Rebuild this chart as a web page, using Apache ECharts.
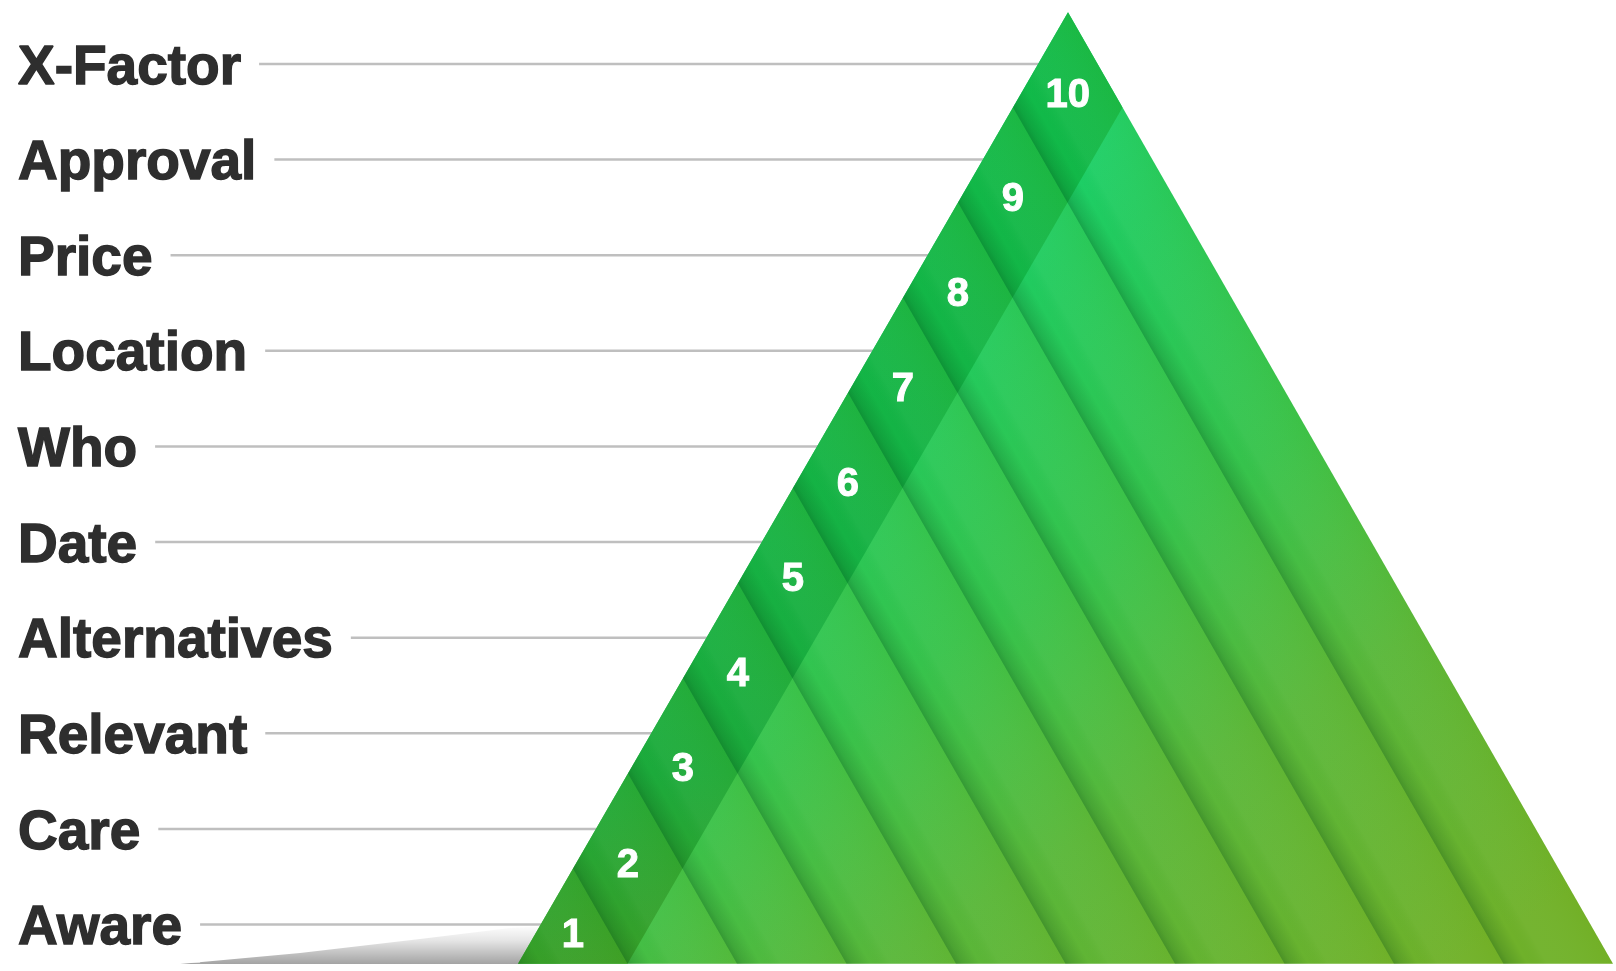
<!DOCTYPE html>
<html>
<head>
<meta charset="utf-8">
<style>
  html, body { margin: 0; padding: 0; background: #fff; }
  #main { width: 1616px; height: 971px; }
</style>
<script src="https://cdn.jsdelivr.net/npm/echarts@6/dist/echarts.min.js"></script>
</head>
<body>
<div id="main"></div>
<script>
// steps, bottom to top
var categories = ['Aware', 'Care', 'Relevant', 'Alternatives', 'Date', 'Who', 'Location', 'Price', 'Approval', 'X-Factor'];
var levels = [1, 2, 3, 4, 5, 6, 7, 8, 9, 10];
var levelLabels = ['1', '2', '3', '4', '5', '6', '7', '8', '9', '10'];

// triangle corners in axis units (x: px from grid left, y: level)
var TRI = { apex: [1050, 10.54], left: [500, 0.59], right: [1595, 0.59] };

function triPx(api) {
    return { A: api.coord(TRI.apex), L: api.coord(TRI.left), R: api.coord(TRI.right) };
}
// point inside triangle: u along apex->left, v along apex->right
function P(t, u, v) {
    return [
        t.A[0] + u * (t.L[0] - t.A[0]) + v * (t.R[0] - t.A[0]),
        t.A[1] + u * (t.L[1] - t.A[1]) + v * (t.R[1] - t.A[1])
    ];
}
function lin(x, y, x2, y2, stops) {
    return { type: 'linear', x: x, y: y, x2: x2, y2: y2, global: true,
        colorStops: stops.map(function (s) { return { offset: s[0], color: s[1] }; }) };
}

var myChart = echarts.init(document.getElementById('main'));

var option = {
    animation: false,
    backgroundColor: '#fff',
    grid: [
        { left: 18, right: 0, top: 63.9, bottom: 46.5 },
        // label grid, nudged down so the caps sit centred on the guide lines
        { left: 18, right: 0, top: 68.4, bottom: 42 }
    ],
    xAxis: [
        { type: 'value', min: 0, max: 1598, show: false },
        { type: 'value', gridIndex: 1, min: 0, max: 1, show: false }
    ],
    yAxis: [
        {
            type: 'category',
            gridIndex: 1,
            data: categories,
            boundaryGap: false,
            z: 10,
            axisLine: { show: false },
            axisTick: { show: false },
            splitLine: { show: false },
            axisLabel: {
                inside: true,
                margin: 0,
                interval: 0,
                color: '#2e2e2e',
                fontFamily: 'Liberation Sans',
                fontWeight: 'bold',
                fontSize: 55,
                textBorderColor: '#2e2e2e',
                textBorderWidth: 1.4,
                backgroundColor: '#fff',
                padding: [6, 18, 6, 0]
            }
        },
        { type: 'value', min: 1, max: 10, show: false }
    ],
    graphic: [
        {
            // soft ground shadow left of the triangle
            type: 'polygon',
            z: 0,
            shape: { points: [[180, 964], [300, 953], [420, 939], [510, 928], [560, 925], [560, 964]] },
            style: { fill: lin(0, 925, 0, 964, [[0, 'rgba(0,0,0,0)'], [0.4, 'rgba(0,0,0,0.1)'], [1, 'rgba(0,0,0,0.36)']]) }
        }
    ],
    series: [
        {
            // guide lines from labels to the triangle
            type: 'custom',
            yAxisIndex: 1,
            z: 1,
            data: levels.map(function (v) { return [0, v]; }),
            encode: { x: 0, y: 1 },
            renderItem: function (params, api) {
                var t = triPx(api);
                var p = api.coord([0, api.value(1)]);
                var s = (p[1] - t.A[1]) / (t.L[1] - t.A[1]);
                var xe = t.A[0] + s * (t.L[0] - t.A[0]) + 3;
                return {
                    type: 'line',
                    shape: { x1: p[0], y1: p[1], x2: xe, y2: p[1] },
                    style: { stroke: '#bfbfbf', lineWidth: 2.5 }
                };
            }
        },
        {
            // triangle body + darker left band
            type: 'custom',
            yAxisIndex: 1,
            z: 3,
            data: [[0, 1]],
            encode: { x: 0, y: 1 },
            renderItem: function (params, api) {
                var t = triPx(api);
                return {
                    type: 'group',
                    children: [
                        {
                            type: 'polygon',
                            shape: { points: [t.A, t.L, t.R] },
                            style: { fill: lin(t.A[0] - 170, t.A[1] + 40, t.R[0] - 160, t.R[1], [
                                [0, '#14d46e'], [0.15, '#1bd06a'], [0.25, '#21cb5f'], [0.5, '#36c34c'],
                                [0.6, '#46be44'], [0.72, '#58b73a'], [1, '#6fb12a']]) }
                        },
                        {
                            type: 'polygon',
                            shape: { points: [t.A, t.L, P(t, 0.9, 0.1), P(t, 0, 0.1)] },
                            style: { fill: lin(0, t.A[1], 0, t.L[1], [
                                [0, '#10bb4a'], [0.55, '#15b244'], [0.8, '#1caa3b'], [1, '#389f28']]) }
                        }
                    ]
                };
            }
        },
        {
            // stripes: shading per stripe + step number
            type: 'custom',
            yAxisIndex: 1,
            z: 4,
            data: levels.map(function (v) { return [0, v]; }),
            encode: { x: 0, y: 1 },
            renderItem: function (params, api) {
                var t = triPx(api);
                var k = api.value(1);
                var u0 = (10 - k) / 10, u1 = (11 - k) / 10;
                var D = [t.R[0] - t.A[0], t.R[1] - t.A[1]];
                var E = [t.L[0] - t.A[0], t.L[1] - t.A[1]];
                var f = (E[0] * D[0] + E[1] * D[1]) / (D[0] * D[0] + D[1] * D[1]);
                var nv = [-(E[0] - f * D[0]) * 0.1, -(E[1] - f * D[1]) * 0.1];
                var s0 = P(t, u1, 0);
                var shade = lin(s0[0], s0[1], s0[0] + nv[0], s0[1] + nv[1], [
                    [0, 'rgba(0,60,15,0.28)'], [0.06, 'rgba(0,60,15,0.16)'], [0.22, 'rgba(0,60,15,0)'],
                    [0.4, 'rgba(255,255,220,0.04)'], [1, 'rgba(150,165,0,0.08)']]);
                var c = k === 1 ? P(t, 0.933, 0.033) : P(t, u0 + 0.05, 0.05);
                var dy = k === 1 ? 5 : (k === 10 ? -11 : -3);
                return {
                    type: 'group',
                    children: [
                        {
                            type: 'polygon',
                            shape: { points: [P(t, u0, 0), P(t, u1, 0), P(t, u1, 1 - u1), P(t, u0, 1 - u0)] },
                            style: { fill: shade }
                        },
                        {
                            type: 'text',
                            x: c[0], y: c[1] + dy,
                            style: {
                                text: levelLabels[k - 1],
                                fill: '#fff',
                                fontFamily: 'Liberation Sans',
                                fontWeight: 'bold',
                                fontSize: 40,
                                stroke: '#fff',
                                lineWidth: 1,
                                align: 'center',
                                verticalAlign: 'middle'
                            }
                        }
                    ]
                };
            }
        }
    ]
};

myChart.setOption(option);
</script>
</body>
</html>
